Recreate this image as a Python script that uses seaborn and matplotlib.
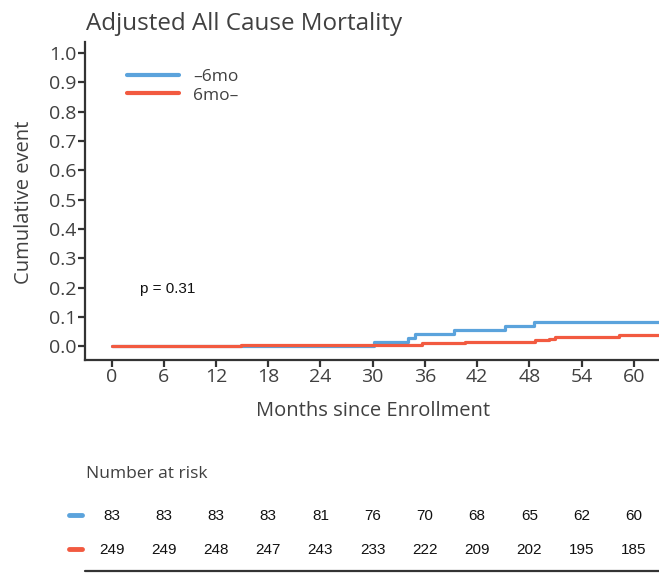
import matplotlib
matplotlib.use("Agg")
import matplotlib.pyplot as plt
import matplotlib.transforms as mtransforms
from matplotlib.lines import Line2D
import seaborn as sns
import pandas as pd

# ---- data ----
groups = ["\u20136mo", "6mo\u2013"]
blue_times = [0, 30.1, 34.1, 34.9, 39.3, 45.2, 48.5, 63]
blue_vals = [0.0, 0.014, 0.028, 0.042, 0.054, 0.070, 0.083, 0.083]
red_times = [0, 14.9, 35.7, 40.6, 48.6, 50.3, 51.0, 58.3, 63]
red_vals = [0.0, 0.006, 0.012, 0.016, 0.022, 0.026, 0.033, 0.038, 0.038]
risk_times = [0, 6, 12, 18, 24, 30, 36, 42, 48, 54, 60]
risk_blue = [83, 83, 83, 83, 81, 76, 70, 68, 65, 62, 60]
risk_red = [249, 249, 248, 247, 243, 233, 222, 209, 202, 195, 185]
p_text = "p = 0.31"

colors = {groups[0]: "#5BA3DC", groups[1]: "#F25A40"}

df = pd.concat([
    pd.DataFrame({"t": blue_times, "v": blue_vals, "g": groups[0]}),
    pd.DataFrame({"t": red_times, "v": red_vals, "g": groups[1]}),
], ignore_index=True)

sns.set_theme(style="ticks")
plt.rcParams["font.family"] = ["Open Sans", "DejaVu Sans"]

W, H = 659, 573
fig = plt.figure(figsize=(W / 100, H / 100), dpi=100)
ax_h = 359.5 - 41.7
ax_w = W - 85
ax = fig.add_axes([85 / W, 1 - 359.5 / H, ax_w / W, ax_h / H])

sns.lineplot(data=df, x="t", y="v", hue="g", palette=colors, drawstyle="steps-post",
             linewidth=2.3, ax=ax, legend=False, estimator=None, sort=False)

ax.set_xlim(-3.05, 62.9)
ax.set_ylim(-0.045, 1.0386)
ax.set_xticks(risk_times)
ax.set_yticks([i / 10 for i in range(11)])
ax.set_yticklabels([f"{i / 10:.1f}" for i in range(11)])
gray = "#404040"
for s in ["top", "right"]:
    ax.spines[s].set_visible(False)
for s in ["left", "bottom"]:
    ax.spines[s].set_color("#333333")
    ax.spines[s].set_linewidth(1.6)
ax.tick_params(axis="both", colors="#333333", labelcolor=gray, labelsize=14,
               length=5, width=1.6, pad=1)
ax.set_xlabel("Months since Enrollment", fontsize=14.5, color=gray, va="top")
ax.xaxis.set_label_coords(0.5024, (359.5 - 401) / ax_h)
ax.set_ylabel("Cumulative event", fontsize=14.5, color=gray, va="center")
ax.yaxis.set_label_coords((24 - 85) / ax_w, (359.5 - 202) / ax_h)
fig.text(86 / W, 1 - 30 / H, "Adjusted All Cause Mortality",
         fontsize=17.4, color=gray, ha="left", va="baseline")

# legend
handles = [Line2D([], [], color=colors[g], linewidth=3) for g in groups]
leg = ax.legend(handles, groups, loc="upper left",
                bbox_to_anchor=(35 / ax_w, 1 - 20 / ax_h),
                frameon=False, fontsize=12.5, handlelength=3.0, handletextpad=0.8,
                labelspacing=0.15, labelcolor=gray, borderaxespad=0)

fig.text(139.5 / W, 1 - 289.5 / H, p_text, fontsize=11, family="Liberation Sans",
         color="#111111", va="center", ha="left")

# risk table (x in data coords, y in figure coords)
trans = mtransforms.blended_transform_factory(ax.transData, fig.transFigure)
fig.text(85.5 / W, 1 - 474 / H, "Number at risk", fontsize=12.5, color=gray,
         va="center", ha="left")
for row_y, vals, g in [(516, risk_blue, groups[0]), (550, risk_red, groups[1])]:
    yf = 1 - row_y / H
    for t, n in zip(risk_times, vals):
        ax.text(t, yf, str(n), transform=trans, ha="center", va="center", fontsize=11,
                family="Liberation Sans", color="#111111", clip_on=False)
    fig.add_artist(Line2D([69 / W, 82 / W], [yf + 1 / H, yf + 1 / H], color=colors[g],
                          linewidth=3.5, transform=fig.transFigure))
fig.add_artist(Line2D([85 / W, 1], [1 - 571 / H, 1 - 571 / H], color="#333333",
                      linewidth=1.6, transform=fig.transFigure))

fig.savefig("out.png", dpi=100)
